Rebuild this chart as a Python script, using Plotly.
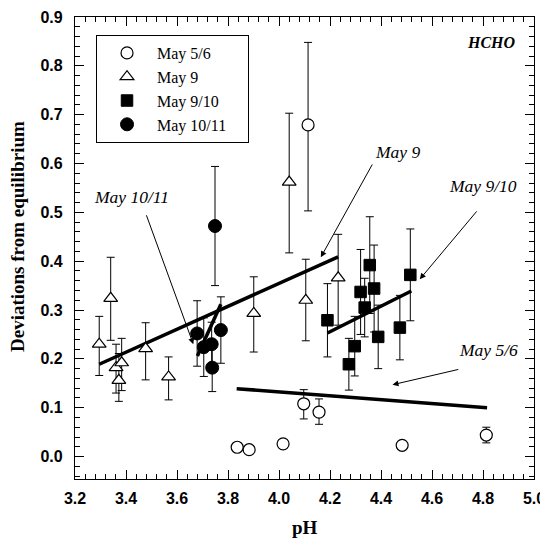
import plotly.graph_objects as go

# ---------------- data ----------------
# May 5/6 (open circles)
m56_ph = [3.836, 3.883, 4.016, 4.097, 4.157, 4.114, 4.483, 4.813]
m56_dev = [0.019, 0.014, 0.026, 0.108, 0.091, 0.679, 0.023, 0.044]
m56_err_up = [0.0, 0.0, 0.0, 0.029, 0.027, 0.169, 0.0, 0.016]
m56_err_dn = [0.0, 0.0, 0.0, 0.031, 0.025, 0.176, 0.0, 0.016]

# May 9 (open triangles)
m9_ph = [3.295, 3.340, 3.361, 3.383, 3.372, 3.477, 3.567, 3.901, 4.040, 4.105, 4.232]
m9_dev = [0.230, 0.324, 0.182, 0.192, 0.156, 0.221, 0.163, 0.293, 0.562, 0.320, 0.366]
m9_err_up = [0.057, 0.084, 0.048, 0.050, 0.055, 0.053, 0.041, 0.075, 0.141, 0.084, 0.089]
m9_err_dn = [0.064, 0.086, 0.052, 0.057, 0.043, 0.064, 0.047, 0.079, 0.145, 0.083, 0.097]

# May 9/10 (filled squares)
m910_ph = [4.190, 4.274, 4.297, 4.320, 4.336, 4.356, 4.373, 4.389, 4.474, 4.515]
m910_dev = [0.279, 0.189, 0.226, 0.337, 0.305, 0.392, 0.344, 0.245, 0.264, 0.372]
m910_err = [0.075, 0.053, 0.061, 0.087, 0.060, 0.099, 0.089, 0.065, 0.066, 0.094]

# May 10/11 (filled circles)
m1011_ph = [3.679, 3.705, 3.736, 3.738, 3.772, 3.749]
m1011_dev = [0.252, 0.224, 0.230, 0.182, 0.259, 0.472]
m1011_err = [0.067, 0.060, 0.045, 0.049, 0.068, 0.122]

# regression lines (end points)
fit_56_ph, fit_56_dev = [3.834, 4.816], [0.139, 0.100]
fit_9_ph, fit_9_dev = [3.295, 4.232], [0.189, 0.409]
fit_910_ph, fit_910_dev = [4.190, 4.519], [0.253, 0.339]
fit_1011_ph, fit_1011_dev = [3.680, 3.772], [0.206, 0.312]

series_names = ["May 5/6", "May 9", "May 9/10", "May 10/11"]

SERIF = "Liberation Serif"
SANS = "Liberation Sans"

fig = go.Figure()

# regression lines
for xs, ys in [(fit_56_ph, fit_56_dev), (fit_9_ph, fit_9_dev),
               (fit_910_ph, fit_910_dev), (fit_1011_ph, fit_1011_dev)]:
    fig.add_trace(go.Scatter(x=xs, y=ys, mode="lines", showlegend=False,
                             line=dict(color="black", width=3.5), hoverinfo="skip"))

def ebar(up, dn):
    return dict(type="data", array=up, arrayminus=dn, color="black",
                thickness=1, width=4, symmetric=False)

# padding (non-breaking spaces) widens the legend box like the reference
pad = "\u00a0\u00a0\u00a0\u00a0"

fig.add_trace(go.Scatter(
    x=m56_ph, y=m56_dev, mode="markers", name=series_names[0],
    error_y=ebar(m56_err_up, m56_err_dn),
    marker=dict(symbol="circle", size=12, color="white",
                line=dict(color="black", width=1.2))))
fig.add_trace(go.Scatter(
    x=m9_ph, y=m9_dev, mode="markers", name=series_names[1],
    error_y=ebar(m9_err_up, m9_err_dn),
    marker=dict(symbol="triangle-up", size=12, color="white",
                line=dict(color="black", width=1.2))))
fig.add_trace(go.Scatter(
    x=m910_ph, y=m910_dev, mode="markers", name=series_names[2],
    error_y=ebar(m910_err, m910_err),
    marker=dict(symbol="square", size=11.5, color="black",
                line=dict(color="black", width=1))))
fig.add_trace(go.Scatter(
    x=m1011_ph, y=m1011_dev, mode="markers", name=series_names[3] + pad,
    error_y=ebar(m1011_err, m1011_err),
    marker=dict(symbol="circle", size=13, color="black",
                line=dict(color="black", width=1))))

ann_font = dict(family=SERIF, size=17.5, color="black")
labels = [
    ("May 9", 4.466, 0.624, 4.369, 0.601, 4.164, 0.408),
    ("May 9/10", 4.800, 0.553, 4.780, 0.505, 4.552, 0.363),
    ("May 5/6", 4.820, 0.218, 4.709, 0.179, 4.445, 0.147),
    ("May 10/11", 3.422, 0.532, 3.478, 0.497, 3.664, 0.230),
]
annotations = []
for txt, tx, ty, ax0, ay0, hx, hy in labels:
    annotations.append(dict(x=tx, y=ty, xref="x", yref="y", text="<i>%s</i>" % txt,
                            showarrow=False, font=ann_font))
    annotations.append(dict(x=hx, y=hy, ax=ax0, ay=ay0, xref="x", yref="y",
                            axref="x", ayref="y", text="", showarrow=True,
                            arrowhead=2, arrowsize=1.2, arrowwidth=1,
                            arrowcolor="black", standoff=0, startstandoff=0))
annotations.append(dict(x=4.936, y=0.848, xref="x", yref="y", xanchor="right",
                        text="<b><i>HCHO</i></b>", showarrow=False,
                        font=dict(family=SERIF, size=16, color="black")))
annotations.append(dict(x=0.5, y=-0.106, xref="paper", yref="paper", text="<b>pH</b>",
                        showarrow=False, xanchor="center", yanchor="middle",
                        font=dict(family=SERIF, size=19, color="black")))
annotations.append(dict(x=-0.124, y=0.524, xref="paper", yref="paper",
                        xanchor="center", yanchor="middle",
                        text="<b>Deviations from equilibrium</b>", textangle=-90,
                        showarrow=False, font=dict(family=SERIF, size=19, color="black")))

axis_common = dict(showline=True, linecolor="black", linewidth=1.2, mirror="ticks",
                   ticks="inside", ticklen=9, tickwidth=1, tickcolor="black",
                   showgrid=False, zeroline=False, automargin=False,
                   tickfont=dict(family=SANS, size=16, color="black", weight="bold"))

# the page body has an 8px margin, so the figure is sized/offset to compensate
fig.update_layout(
    width=540, height=532,
    margin=dict(l=67, r=14, t=9, b=61, autoexpand=False),
    paper_bgcolor="white", plot_bgcolor="white",
    xaxis=dict(range=[3.2, 5.0], dtick=0.2, tick0=3.2, tickformat=".1f",
               minor=dict(ticks="inside", ticklen=5, dtick=0.04, tickcolor="black", showgrid=False),
               ticklabelstandoff=5, **axis_common),
    yaxis=dict(range=[-0.046, 0.9], dtick=0.1, tick0=0, tickformat=".1f",
               minor=dict(ticks="inside", ticklen=5, dtick=0.02, tickcolor="black", showgrid=False),
               ticklabelstandoff=8, **axis_common),
    legend=dict(x=0.0458, y=0.961, xanchor="left", yanchor="top",
                bordercolor="black", borderwidth=1, bgcolor="white",
                font=dict(family=SERIF, size=16, color="black"),
                itemwidth=50),
    annotations=annotations,
    showlegend=True,
)

fig.write_html("out.html")
